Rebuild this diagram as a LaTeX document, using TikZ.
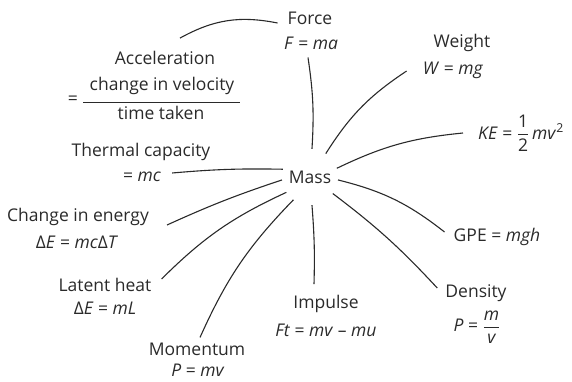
\documentclass[tikz,border=0pt]{standalone}
\usepackage{amsmath}
\usepackage{fontspec}
\setmainfont{Open Sans}
\definecolor{ink}{HTML}{2A2A2A}
\begin{document}
\begin{tikzpicture}[x=1pt,y=-1pt,
  lbl/.style={inner sep=0pt,text=ink,font=\fontsize{17.5}{20}\selectfont},
  conn/.style={draw=ink,line width=1.1pt}]
\useasboundingbox (0,0) rectangle (572,382);
% centre
\node[circle,inner sep=0pt,minimum size=56pt,text=ink,font=\fontsize{17.5}{20}\selectfont] (mass) at (310,177) {Mass};
% labels
\node[lbl] (force1) at (310,18) {Force};
\node[lbl] (force2) at (311,43) {\textit{F} = \textit{ma}};
\node[lbl] (weight1) at (462,43) {Weight};
\node[lbl] (weight2) at (453,70) {\textit{W} = \textit{mg}};
\node[lbl] (ke) at (521,133) {\textit{KE} = \(\dfrac{\text{1}}{\text{2}}\)\,\textit{mv}\textsuperscript{2}};
\node[lbl] (gpe) at (497,237) {GPE = \textit{mgh}};
\node[lbl] (density1) at (476,293) {Density};
\node[lbl] (density2) at (477,327) {\textit{P} = \(\dfrac{\textit{m}}{\textit{v}}\)};
\node[lbl] (impulse1) at (326,304) {Impulse};
\node[lbl] (impulse2) at (326,330) {\textit{Ft} = \textit{mv} -- \textit{mu}};
\node[lbl] (momentum1) at (197,349) {Momentum};
\node[lbl] (momentum2) at (198,370) {\textit{P} = \textit{mv}};
\node[lbl] (latent1) at (105,285) {Latent heat};
\node[lbl] (latent2) at (105,308) {Δ\textit{E} = \textit{mL}};
\node[lbl] (change1) at (78,217) {Change in energy};
\node[lbl] (change2) at (77,242) {Δ\textit{E} = \textit{mc}Δ\textit{T}};
\node[lbl] (thermal1) at (141,152) {Thermal capacity};
\node[lbl] (thermal2) at (142,177) {= \textit{mc}};
\node[lbl] (acc1) at (165,58) {Acceleration};
\node[lbl] (acceq) at (73,100) {=};
\node[lbl] (accnum) at (162,86) {change in velocity};
\node[lbl] (accden) at (161,113) {time taken};
\draw[conn,line width=0.9pt] (83,102) -- (240,102);
% connectors
\draw[conn] ([shift={(15,-13)}]acc1.north) to[bend left=20] ([shift={(-10,5)}]force1.west);
\draw[conn] (mass.86) to[bend right=6] ([shift={(-3,8)}]force2.south);
\draw[conn] (mass.56) to[bend left=12] ([shift={(-16,1)}]weight2.west);
\draw[conn] (mass.18) to[bend left=10] ([shift={(-15,0)}]ke.west);
\draw[conn] (mass.-6) to[bend left=12] ([shift={(-9,-5)}]gpe.west);
\draw[conn] (mass.-36) to[bend left=5] ([shift={(-8,-5)}]density1.west);
\draw[conn] (mass.-86) to[bend left=3] ([shift={(-12,-11)}]impulse1.north);
\draw[conn] (mass.-126) to[bend right=10] ([shift={(3,-5)}]momentum1.north);
\draw[conn] (mass.-147) to[bend right=10] ([shift={(10,-6)}]latent1.east);
\draw[conn] (mass.-174) to[bend right=3] ([shift={(18,8)}]change1.east);
\draw[conn] (mass.164) to[bend right=3] ([shift={(11,-4)}]thermal2.east);
\end{tikzpicture}
\end{document}
